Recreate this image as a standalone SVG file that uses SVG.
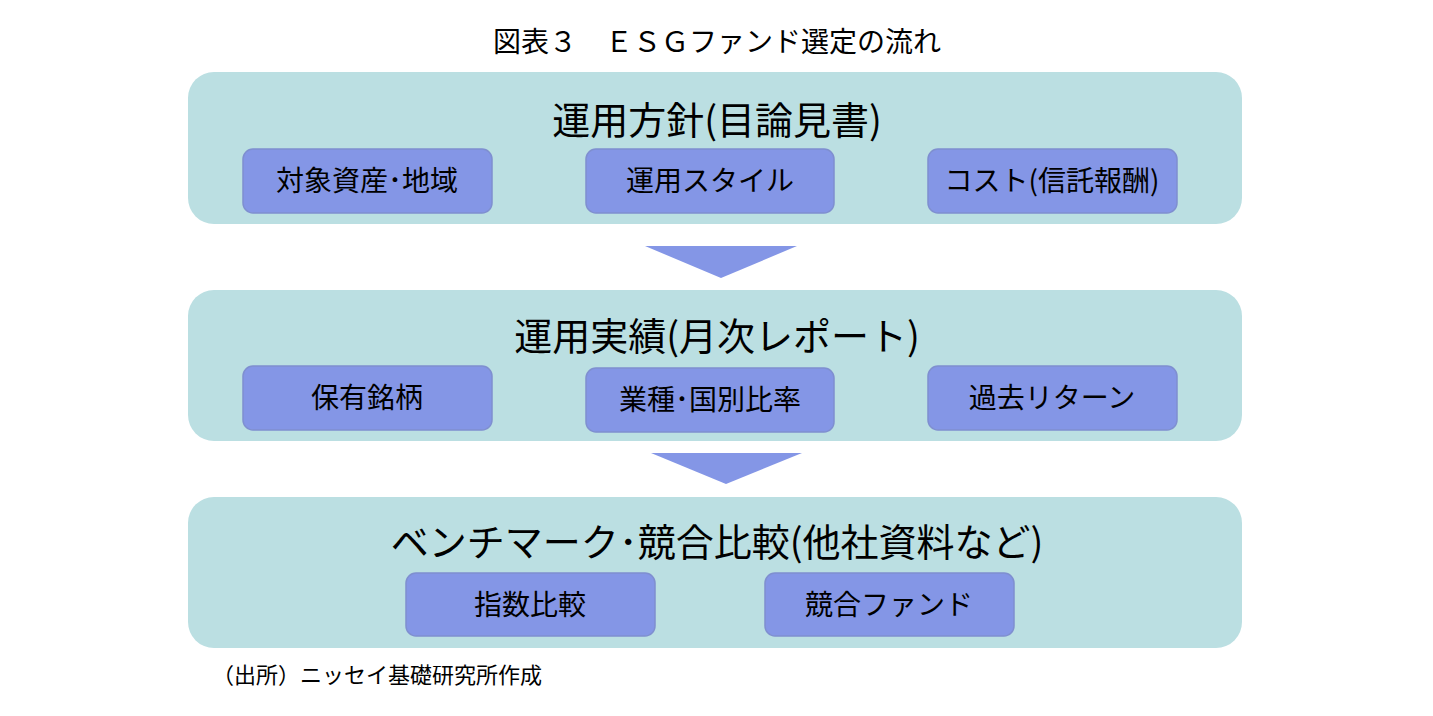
<svg xmlns="http://www.w3.org/2000/svg" width="1433" height="716" viewBox="0 0 1433 716">
<style>
.outer{fill:#BBDFE2}
.inner{fill:#8496E6;stroke:#7F8FD0;stroke-width:1.5}
.arr{fill:#8496E6}
.t{font-family:"Noto Sans CJK JP","Liberation Sans",sans-serif;text-anchor:middle;fill:#000}
.h{font-size:38px}
.s{font-size:28px}
.cap{font-family:"Liberation Serif","Noto Sans CJK JP",serif;fill:#000}
</style>
<rect width="1433" height="716" fill="#fff"/>
<text class="cap" x="717" y="52" font-size="28" text-anchor="middle">図表３　ＥＳＧファンド選定の流れ</text>
<g id="stage1">
<rect class="outer" x="188" y="72" width="1054" height="152" rx="26"/>
<text class="t h" x="717" y="134">運用方針(目論見書)</text>
</g>
<g id="n1a"><rect class="inner" x="243" y="149" width="249" height="64" rx="10"/><text class="t s" x="367" y="191">対象資産･地域</text></g>
<g id="n1b"><rect class="inner" x="586" y="149" width="248" height="64" rx="10"/><text class="t s" x="710" y="191">運用スタイル</text></g>
<g id="n1c"><rect class="inner" x="928" y="149" width="249" height="64" rx="10"/><text class="t s" x="1052" y="191">コスト(信託報酬)</text></g>
<g id="stage2">
<rect class="outer" x="188" y="290" width="1054" height="151" rx="26"/>
<text class="t h" x="717" y="350">運用実績(月次レポート)</text>
</g>
<g id="n2a"><rect class="inner" x="243" y="366" width="249" height="64" rx="10"/><text class="t s" x="367" y="408">保有銘柄</text></g>
<g id="n2b"><rect class="inner" x="586" y="368" width="248" height="64" rx="10"/><text class="t s" x="710" y="410">業種･国別比率</text></g>
<g id="n2c"><rect class="inner" x="928" y="366" width="249" height="64" rx="10"/><text class="t s" x="1052" y="408">過去リターン</text></g>
<g id="stage3">
<rect class="outer" x="188" y="497" width="1054" height="151" rx="26"/>
<text class="t h" x="717" y="556">ベンチマーク･競合比較(他社資料など)</text>
</g>
<g id="n3a"><rect class="inner" x="406" y="573" width="249" height="63" rx="10"/><text class="t s" x="530" y="615">指数比較</text></g>
<g id="n3b"><rect class="inner" x="765" y="573" width="249" height="63" rx="10"/><text class="t s" x="889" y="615">競合ファンド</text></g>
<g id="connectors">
<polygon class="arr" points="645,246 797,246 721,278"/>
<polygon class="arr" points="651,453 802,453 726,484"/>
</g>
<text class="cap" x="212" y="683" font-size="22">（出所）ニッセイ基礎研究所作成</text>
</svg>
